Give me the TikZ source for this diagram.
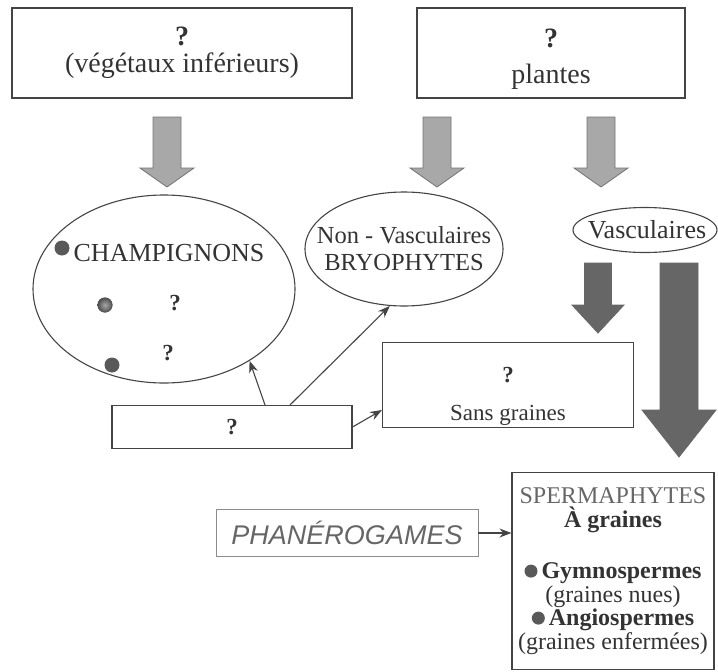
\documentclass[tikz,border=0pt]{standalone}
\usepackage{fontspec}
\setmainfont{Liberation Serif}
\setsansfont{Liberation Sans}
\usetikzlibrary{calc}
\usetikzlibrary{arrows.meta}
\usetikzlibrary{shapes.geometric}
\definecolor{trait}{HTML}{444444}
\definecolor{texte}{HTML}{333333}
\definecolor{clair}{HTML}{A8A8A8}
\definecolor{fonce}{HTML}{666666}
\tikzset{
	>={Stealth[length=12pt,width=9pt]},
	every node/.style={font=\fontsize{23}{27}\selectfont, text=texte},
	boite/.style={
		rectangle,
		draw=trait, line width=1.1pt,
		inner sep=0pt,
		align=center},
	bulle/.style={
		ellipse,
		draw=trait, line width=1.1pt,
		inner sep=0pt},
	puce/.style={circle, fill=black!65, inner sep=0pt, minimum size=15pt},
	lien/.style={draw=trait, line width=1.1pt, ->},
	grosclair/.style={fill=clair, draw=black!55, line width=0.8pt},
	grosfonce/.style={fill=fonce, draw=black!60, line width=0.8pt},
}
\newcommand{\puceinline}{\tikz[baseline=-7.5pt]\fill[black!65] (0,0) circle (6.5pt);}
% grosse fleche : style, haut, pointe, demi-tige, demi-tete, hauteur tete
\newcommand{\grossefleche}[6]{%
	\path[#1] ($(#2)+(-#4,0)$) -- ($(#2)+(#4,0)$) -- ($(#3)+(#4,-#6)$) -- ($(#3)+(#5,-#6)$) -- (#3)
	-- ($(#3)+(-#5,-#6)$) -- ($(#3)+(-#4,-#6)$) -- cycle;}

\begin{document}
\begin{tikzpicture}[x=1pt,y=-1pt]
	\useasboundingbox (0,0) rectangle (718,672);

	% boites du haut
	\node[boite, minimum width=340pt, minimum height=90pt, font=\fontsize{28}{27}\selectfont] (vegetaux) at (182,53) {\textbf{?}\\(végétaux inférieurs)};
	\node[boite, minimum width=268pt, minimum height=90pt] (plantes) at (551,53) {};
	\node[align=center, font=\fontsize{28}{27}\selectfont] (plantestexte) at (551,59) {\textbf{?}\\[9pt]plantes};

	% grosses fleches grises
	\coordinate (f1h) at (167,117); \coordinate (f1b) at (167,187);
	\coordinate (f2h) at (437,117); \coordinate (f2b) at (437,187);
	\coordinate (f3h) at (601,117); \coordinate (f3b) at (601,187);
	\grossefleche{grosclair}{f1h}{f1b}{14}{27}{19}
	\grossefleche{grosclair}{f2h}{f2b}{14}{27}{19}
	\grossefleche{grosclair}{f3h}{f3b}{14}{27}{19}

	% ellipses
	\node[bulle, minimum width=262pt, minimum height=188pt] (champ) at (164,289) {};
	\node[bulle, minimum width=198pt, minimum height=114pt] (bryo) at (404,249) {};
	\node[align=center, font=\fontsize{24.5}{27}\selectfont] (bryotexte) at (bryo) {Non - Vasculaires\\BRYOPHYTES};
	\node[bulle, minimum width=144pt, minimum height=45pt] (vasc) at (645,230) {};
	\node[font=\fontsize{26}{27}\selectfont] (vasctexte) at (647,230) {Vasculaires};

	\node[puce] (p1) at (62,248) {};
	\node[font=\fontsize{26}{27}\selectfont] (champignons) at (169,253) {CHAMPIGNONS};
	\node[puce, inner color=black!35, outer color=black!70] (p2) at (105,305) {};
	\node (q1) at (175,303) {\textbf{?}};
	\node[puce] (p3) at (112,365) {};
	\node (q2) at (168,353) {\textbf{?}};

	% grosses fleches foncees
	\coordinate (f4h) at (598,263); \coordinate (f4b) at (598,333);
	\coordinate (f5h) at (679,263); \coordinate (f5b) at (679,457);
	\grossefleche{grosfonce}{f4h}{f4b}{13.5}{26}{28}
	\grossefleche{grosfonce}{f5h}{f5b}{19}{37}{47}

	% boites du milieu
	\node[boite, minimum width=240pt, minimum height=43pt] (inconnu) at (232,427) {\textbf{?}};
	\node[boite, minimum width=251pt, minimum height=85pt] (sansgraines) at (508,385) {};
	\node[align=center] (sanstexte) at (508,396) {\textbf{?}\\[11pt]Sans graines};

	\draw[lien] ([xshift=33pt]inconnu.north) -- (champ.-40);
	\draw[lien] ([xshift=58pt]inconnu.north) -- (bryo.-104);
	\draw[lien] (inconnu.east) -- ([yshift=-25pt]sansgraines.west);

	% boites du bas
	\node[boite, draw=black!45, line width=0.8pt, minimum width=262pt, minimum height=47pt,
		font=\sffamily\itshape\fontsize{27}{30}\selectfont, text=black!60] (phanero) at (347,533) {PHANÉROGAMES};
	\node[boite, minimum width=202pt, minimum height=197pt, font=\fontsize{24}{23.5}\selectfont] (sperma) at (613,571) {%
		{\color{black!60}SPERMAPHYTES}\\
		\textbf{À graines}\\[28pt]
		\puceinline\,\textbf{Gymnospermes}\\
		(graines nues)\\
		\puceinline\,\textbf{Angiospermes}\\
		(graines enfermées)};

	\draw[lien] (phanero.east) -- (phanero.east -| sperma.west);
\end{tikzpicture}
\end{document}
